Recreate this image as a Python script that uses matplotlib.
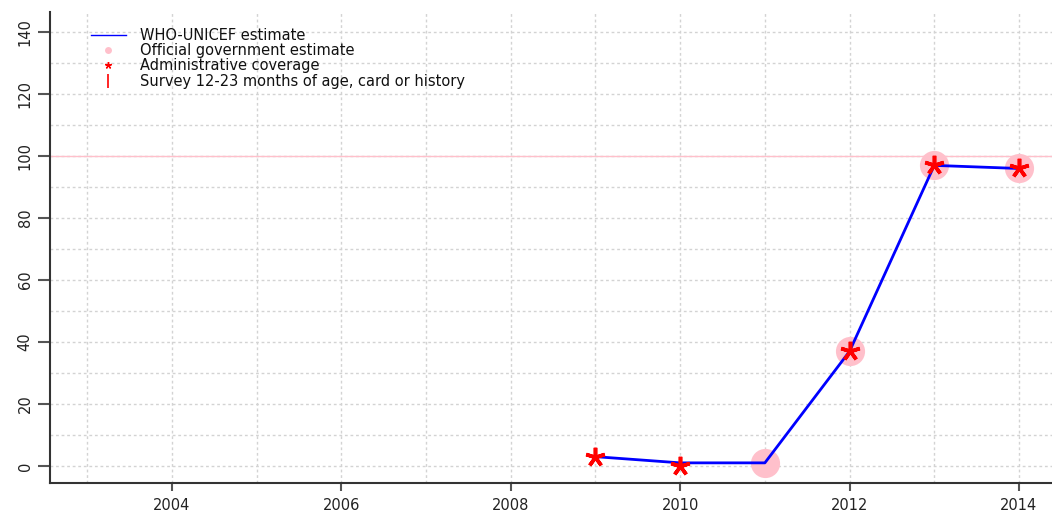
import matplotlib
matplotlib.use("Agg")
import matplotlib.pyplot as plt
from matplotlib.lines import Line2D

plt.rcParams['font.family'] = ['DejaVu Sans']

# Data
years_wuenic = [2009, 2010, 2011, 2012, 2013, 2014]
wuenic = [3, 1, 1, 37, 97, 96]
years_gov = [2011, 2012, 2013, 2014]
gov = [1, 37, 97, 96]
years_admin = [2009, 2010, 2012, 2013, 2014]
admin = [3, 0, 37, 97, 96]
legend_labels = ["WHO-UNICEF estimate", "Official government estimate",
                 "Administrative coverage", "Survey 12-23 months of age, card or history"]
xticks = [2004, 2006, 2008, 2010, 2012, 2014]
yticks = [0, 20, 40, 60, 80, 100, 120, 140]

fig = plt.figure(figsize=(10.52, 5.14), dpi=100)
ax = fig.add_axes([50/1052, 1-483/514, 1-50/1052, (483-12)/514])

ax.set_xlim(2002.56, 2014.39)
ax.set_ylim(-5.5, 146.5)

# grid
for yr in range(2003, 2015):
    ax.axvline(yr, color='#d3d3d3', lw=1, ls=(0, (2, 2)), zorder=0)
for yv in range(0, 150, 10):
    ax.axhline(yv, color='#d3d3d3', lw=1, ls=(0, (2, 2)), zorder=0)

ax.axhline(100, color='pink', lw=1, zorder=1)

ax.plot(years_gov, gov, 'o', color='pink', ms=21, mec='none', zorder=2)
ax.plot(years_wuenic, wuenic, '-', color='blue', lw=2, zorder=3)
ax.plot(years_admin, admin, ls='none', marker=(5, 2, 0), color='red', ms=14, mew=2.6, zorder=4)

for s in ['top', 'right']:
    ax.spines[s].set_visible(False)
for s in ['left', 'bottom']:
    ax.spines[s].set_color('#333333')
    ax.spines[s].set_linewidth(1.5)

ax.set_xticks(xticks)
ax.set_xticklabels([str(x) for x in xticks])
ax.set_yticks(yticks)
ax.set_yticklabels([str(y) for y in yticks], rotation=90, va='center')
ax.tick_params(axis='both', direction='out', width=1.5, color='#555555',
               labelcolor='#222222', labelsize=10.5)
ax.tick_params(axis='x', length=6, pad=5)
ax.tick_params(axis='y', length=8.5, pad=4)

handles = [
    Line2D([], [], color='blue', lw=1),
    Line2D([], [], ls='none', marker='o', color='pink', ms=5, mec='none'),
    Line2D([], [], ls='none', marker=(5, 2, 0), color='red', ms=5, mew=1),
    Line2D([], [], ls='none', marker='|', color='red', ms=10, mew=1.2),
]
leg = ax.legend(handles, legend_labels, loc='upper left', bbox_to_anchor=(0.032, 0.985),
                frameon=False, fontsize=10.5, labelspacing=0.02, handlelength=2.4,
                handletextpad=1.0, borderaxespad=0.2)
for t in leg.get_texts():
    t.set_color('#111111')

fig.savefig("out.png", dpi=100)
